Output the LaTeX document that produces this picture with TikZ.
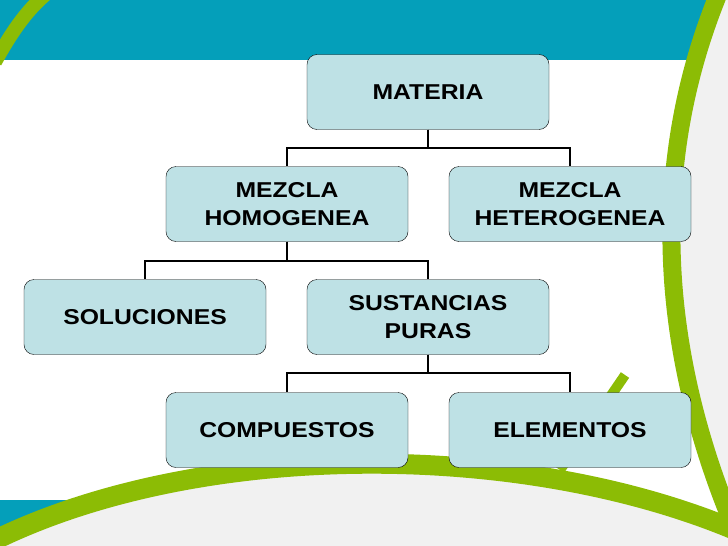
\documentclass[tikz,border=0pt]{standalone}
\usepackage{fontspec}
\setmainfont{Liberation Sans}[FakeStretch=1.15]
\begin{document}
\begin{tikzpicture}[x=1pt,y=-1pt,
  box/.style={draw=black,fill=boxc,rounded corners=10pt,minimum width=242pt,minimum height=75pt,align=center,font=\bfseries\fontsize{21.5}{28}\selectfont,inner sep=2pt},
  conn/.style={draw=black,line width=1.3pt}]
\definecolor{boxc}{HTML}{BEE1E5}
\definecolor{teal}{HTML}{049FBA}
\definecolor{lgreen}{HTML}{8CBC05}
\definecolor{lgrey}{HTML}{F1F1F1}
\useasboundingbox (0,0) rectangle (728,546);
% background
\fill[teal] (0,0) rectangle (728,60);
\fill[teal] (0,500) rectangle (130,546);
\fill[lgrey] (728,0) -- (712,0) .. controls (650,150) and (650,330) .. (728,520) -- cycle;
\fill[lgrey] (0,546) -- (-5,540) .. controls (200,440) and (520,440) .. (735,530) -- (728,546) -- cycle;
\draw[lgreen,line width=14pt] (-5,62) .. controls (10,35) and (25,12) .. (45,-5);
\draw[lgreen,line width=18pt] (718,-5) .. controls (655,150) and (652,330) .. (733,525);
\draw[lgreen,line width=20pt] (-5,540) .. controls (200,440) and (520,440) .. (735,530);
\draw[lgreen,line width=10pt] (560,470) -- (625,375);
% nodes
\node[box] (mat) at (428,92) {MATERIA};
\node[box] (hom) at (287,204) {MEZCLA\\HOMOGENEA};
\node[box] (het) at (570,204) {MEZCLA\\HETEROGENEA};
\node[box] (sol) at (145,317) {SOLUCIONES};
\node[box] (sus) at (428,317) {SUSTANCIAS\\PURAS};
\node[box] (com) at (287,430) {COMPUESTOS};
\node[box] (ele) at (570,430) {ELEMENTOS};
% connectors
\draw[conn] (mat.south) |- (287,148) -- (hom.north);
\draw[conn] (mat.south) |- (570,148) -- (het.north);
\draw[conn] (hom.south) |- (145,261) -- (sol.north);
\draw[conn] (hom.south) |- (428,261) -- (sus.north);
\draw[conn] (sus.south) |- (287,373) -- (com.north);
\draw[conn] (sus.south) |- (570,373) -- (ele.north);
\end{tikzpicture}
\end{document}
